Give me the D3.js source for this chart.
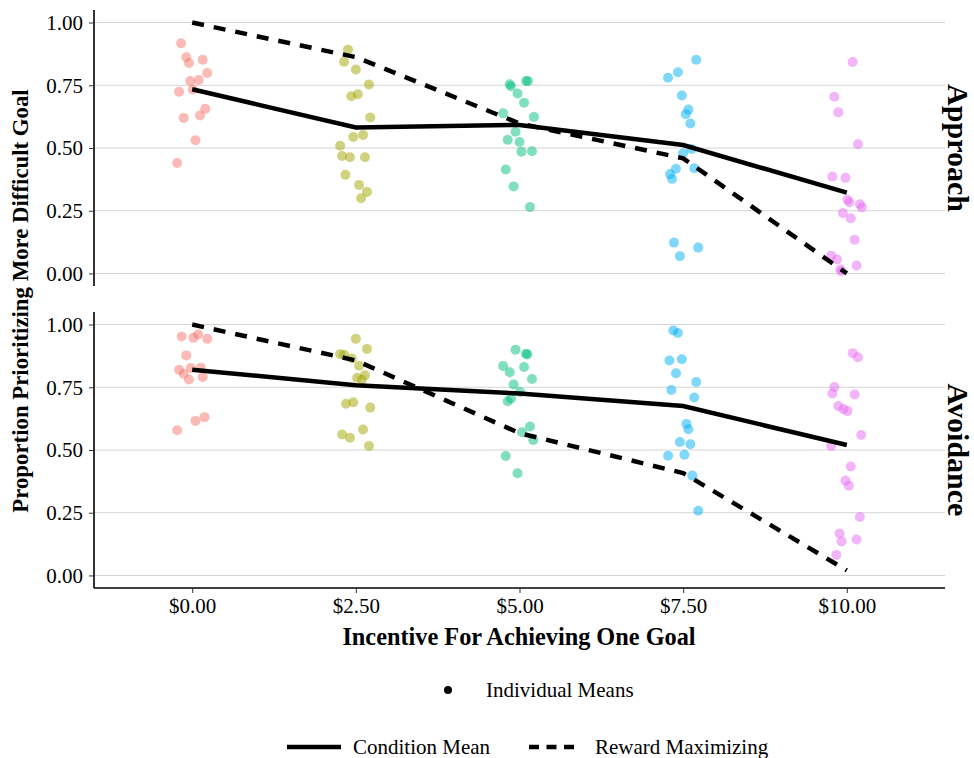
<!DOCTYPE html>
<html>
<head>
<meta charset="utf-8">
<script src="https://cdn.jsdelivr.net/npm/d3@7"></script>
<style>
  body { margin: 0; background: #fff; }
  svg { display: block; font-family: "Liberation Serif", "Times New Roman", serif; }
</style>
</head>
<body>
<div id="chart"></div>
<script>
// Datos
const incentives = [0, 2.5, 5, 7.5, 10];
const tickLabels = ['$0.00', '$2.50', '$5.00', '$7.50', '$10.00'];
const groupColors = ['#F8766D', '#A3A500', '#00BF7D', '#00B0F6', '#E76BF3'];
const panels = ['Approach', 'Avoidance'];

const approachMean = [0.734, 0.582, 0.592, 0.512, 0.322];
const approachReward = [1.0, 0.862, 0.598, 0.459, 0.0];
const avoidanceMean = [0.820, 0.758, 0.725, 0.675, 0.520];
const avoidanceReward = [1.0, 0.857, 0.567, 0.408, 0.02];

// individual means per incentive: [jitter ($), proportion]
const approachPoints = [
  [[-0.17, 0.917], [-0.09, 0.862], [-0.05, 0.839], [0.16, 0.852], [0.23, 0.799], [-0.03, 0.767], [0.10, 0.771],
   [-0.20, 0.724], [0.01, 0.733], [0.20, 0.656], [0.12, 0.630], [-0.13, 0.620], [0.05, 0.531], [-0.23, 0.440]],
  [[-0.12, 0.892], [-0.18, 0.844], [0.00, 0.813], [0.20, 0.753], [-0.07, 0.706], [0.03, 0.714], [0.22, 0.622],
   [-0.04, 0.544], [0.11, 0.552], [-0.24, 0.509], [-0.21, 0.468], [-0.09, 0.463], [0.14, 0.463], [-0.16, 0.393],
   [0.05, 0.353], [0.17, 0.325], [0.08, 0.300]],
  [[-0.15, 0.754], [-0.13, 0.746], [0.10, 0.767], [0.13, 0.767], [-0.03, 0.717], [0.07, 0.680], [-0.25, 0.638],
   [0.22, 0.624], [-0.06, 0.565], [-0.18, 0.533], [0.00, 0.524], [0.03, 0.485], [0.19, 0.487], [-0.21, 0.414],
   [-0.09, 0.347], [0.16, 0.265]],
  [[0.20, 0.852], [-0.23, 0.780], [-0.08, 0.802], [-0.02, 0.709], [0.08, 0.653], [0.04, 0.635], [0.11, 0.598],
   [0.13, 0.496], [0.00, 0.479], [-0.11, 0.417], [0.17, 0.419], [-0.20, 0.396], [-0.17, 0.377], [-0.14, 0.123],
   [0.23, 0.103], [-0.05, 0.069]],
  [[0.09, 0.843], [-0.19, 0.704], [-0.13, 0.642], [0.17, 0.515], [-0.22, 0.386], [-0.02, 0.381], [0.01, 0.294],
   [0.04, 0.284], [0.20, 0.276], [0.23, 0.263], [-0.06, 0.241], [0.06, 0.220], [0.12, 0.134], [-0.24, 0.071],
   [-0.15, 0.056], [-0.10, 0.016], [-0.08, 0.009], [0.15, 0.032]]
];

const avoidancePoints = [
  [[-0.16, 0.952], [0.02, 0.947], [0.09, 0.960], [0.23, 0.943], [-0.09, 0.877], [-0.20, 0.820], [-0.13, 0.804],
   [-0.02, 0.827], [0.13, 0.828], [-0.05, 0.781], [0.16, 0.791], [0.19, 0.631], [0.05, 0.616], [-0.23, 0.579]],
  [[0.00, 0.943], [0.17, 0.903], [-0.24, 0.882], [-0.18, 0.880], [-0.06, 0.865], [0.05, 0.836], [0.02, 0.788],
   [0.09, 0.780], [0.14, 0.798], [-0.15, 0.684], [-0.04, 0.690], [0.22, 0.669], [-0.21, 0.562], [-0.09, 0.549],
   [0.11, 0.582], [0.20, 0.516]],
  [[-0.06, 0.900], [0.10, 0.884], [0.12, 0.881], [-0.25, 0.835], [-0.15, 0.810], [0.07, 0.831], [0.19, 0.783],
   [-0.09, 0.761], [0.01, 0.731], [-0.13, 0.705], [-0.18, 0.694], [0.16, 0.594], [0.04, 0.571], [0.21, 0.540],
   [-0.21, 0.476], [-0.03, 0.407]],
  [[-0.15, 0.976], [-0.08, 0.966], [-0.21, 0.857], [-0.02, 0.862], [-0.11, 0.806], [0.20, 0.771], [-0.18, 0.739],
   [0.17, 0.709], [0.05, 0.604], [0.08, 0.583], [-0.05, 0.532], [0.11, 0.523], [-0.23, 0.477], [0.02, 0.481],
   [0.14, 0.398], [0.23, 0.258]],
  [[0.09, 0.886], [0.17, 0.870], [-0.19, 0.751], [-0.22, 0.725], [0.12, 0.721], [-0.13, 0.675], [-0.05, 0.663],
   [0.01, 0.655], [0.22, 0.560], [-0.24, 0.516], [0.06, 0.434], [-0.02, 0.378], [0.03, 0.358], [0.20, 0.233],
   [-0.11, 0.167], [-0.08, 0.135], [0.15, 0.143], [-0.16, 0.082]]
];

const yTicks = [0, 0.25, 0.5, 0.75, 1.0];

const panelData = [
  { name: panels[0], points: approachPoints, mean: approachMean, reward: approachReward },
  { name: panels[1], points: avoidancePoints, mean: avoidanceMean, reward: avoidanceReward }
];

// Dimensiones
const width = 974, height = 758;
const left = 94, right = 945;
const panelTops = [10, 312];
const panelH = 276;
const tickFont = 21;

const svg = d3.select('#chart').append('svg')
  .attr('width', width)
  .attr('height', height);

// discrete axis with 0.6 expansion -> linear in dollars
const x = d3.scaleLinear().domain([-1.5, 11.5]).range([left, right]);

panelData.forEach((p, pi) => {
  const top = panelTops[pi];
  const y = d3.scaleLinear().domain([-0.05, 1.05]).range([top + panelH, top]);
  const g = svg.append('g');

  // grid
  g.selectAll('.grid')
    .data(yTicks)
    .enter().append('line')
    .attr('x1', left).attr('x2', right)
    .attr('y1', d => y(d)).attr('y2', d => y(d))
    .attr('stroke', '#d4d4d4')
    .attr('stroke-width', 1);

  // y axis
  const yAxis = d3.axisLeft(y)
    .tickValues(yTicks)
    .tickFormat(d3.format('.2f'))
    .tickSize(5)
    .tickPadding(6);
  const ya = g.append('g')
    .attr('transform', `translate(${left},0)`)
    .call(yAxis);
  ya.select('.domain').attr('stroke', '#000').attr('stroke-width', 1.6)
    .attr('d', `M0,${top}V${top + panelH}`);
  ya.selectAll('.tick line').attr('stroke', '#333').attr('stroke-width', 1);
  ya.selectAll('.tick text')
    .attr('font-family', '"Liberation Serif", serif')
    .attr('font-size', tickFont)
    .attr('fill', '#000');

  // points
  p.points.forEach((grp, gi) => {
    g.append('g').selectAll('circle')
      .data(grp)
      .enter().append('circle')
      .attr('cx', d => x(incentives[gi] + d[0]))
      .attr('cy', d => y(d[1]))
      .attr('r', 5)
      .attr('fill', groupColors[gi])
      .attr('fill-opacity', 0.5);
  });

  // lines
  const ln = d3.line().x((d, i) => x(incentives[i])).y(d => y(d));
  g.append('path')
    .attr('d', ln(p.mean))
    .attr('fill', 'none')
    .attr('stroke', '#000')
    .attr('stroke-width', 4.5);
  g.append('path')
    .attr('d', ln(p.reward))
    .attr('fill', 'none')
    .attr('stroke', '#000')
    .attr('stroke-width', 4.5)
    .attr('stroke-dasharray', '12,10');

  // strip label
  svg.append('text')
    .attr('transform', `translate(${958},${top + panelH / 2}) rotate(90)`)
    .attr('text-anchor', 'middle')
    .attr('dominant-baseline', 'central')
    .attr('font-size', 30)
    .attr('font-weight', 700)
    .text(p.name);
});

// x axis
const bottom = panelTops[1] + panelH;
const xAxis = d3.axisBottom(x)
  .tickValues(incentives)
  .tickFormat((d, i) => tickLabels[i])
  .tickSize(5)
  .tickPadding(5);
const xa = svg.append('g')
  .attr('transform', `translate(0,${bottom})`)
  .call(xAxis);
xa.select('.domain').attr('stroke', '#000').attr('stroke-width', 1.6)
  .attr('d', `M${left},0H${right}`);
xa.selectAll('.tick line').attr('stroke', '#333');
xa.selectAll('.tick text')
  .attr('font-family', '"Liberation Serif", serif')
  .attr('font-size', tickFont)
  .attr('fill', '#000');

// axis titles
svg.append('text')
  .attr('x', 519)
  .attr('y', 645)
  .attr('text-anchor', 'middle')
  .attr('font-size', 24.3)
  .attr('font-weight', 700)
  .text('Incentive For Achieving One Goal');

svg.append('text')
  .attr('transform', `translate(20,${301}) rotate(-90)`)
  .attr('text-anchor', 'middle')
  .attr('dominant-baseline', 'central')
  .attr('font-size', 22.8)
  .attr('font-weight', 700)
  .text('Proportion Prioritizing More Difficult Goal');

// legends
const leg = svg.append('g');
leg.append('circle').attr('cx', 448).attr('cy', 690).attr('r', 4).attr('fill', '#000');
leg.append('text').attr('x', 486).attr('y', 697).attr('font-size', 21).text('Individual Means');

leg.append('line').attr('x1', 287).attr('x2', 341).attr('y1', 747).attr('y2', 747)
  .attr('stroke', '#000').attr('stroke-width', 4.5);
leg.append('text').attr('x', 353).attr('y', 754).attr('font-size', 21).text('Condition Mean');

leg.append('line').attr('x1', 529).attr('x2', 574).attr('y1', 747).attr('y2', 747)
  .attr('stroke', '#000').attr('stroke-width', 4.5).attr('stroke-dasharray', '10,7.5');
leg.append('text').attr('x', 595).attr('y', 754).attr('font-size', 21).text('Reward Maximizing');
</script>
</body>
</html>
